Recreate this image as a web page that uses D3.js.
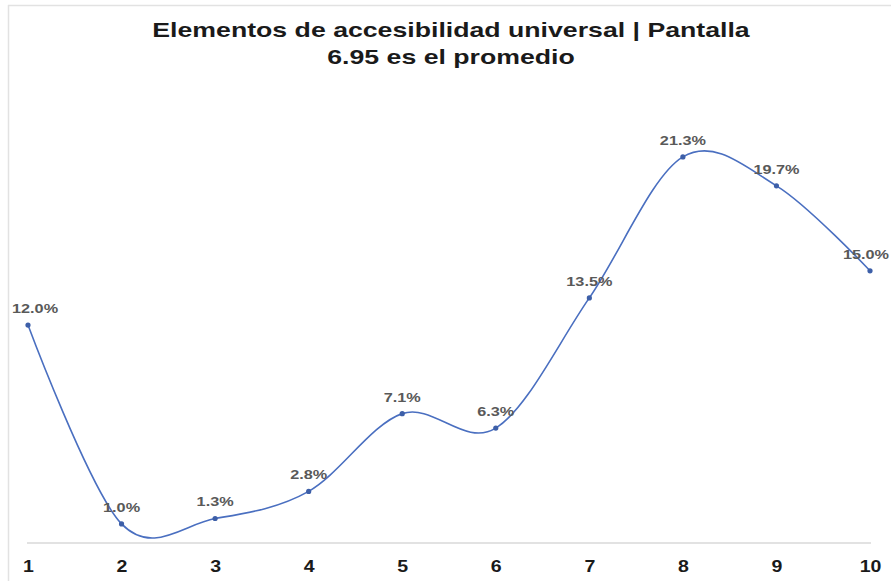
<!DOCTYPE html>
<html>
<head>
<meta charset="utf-8">
<script src="https://cdn.jsdelivr.net/npm/d3@7"></script>
<style>
  html, body { margin: 0; padding: 0; background: #ffffff; }
  svg { display: block; }
</style>
</head>
<body>
<svg id="chart" width="891" height="581"></svg>
<script>
const categories = ["1", "2", "3", "4", "5", "6", "7", "8", "9", "10"];
const values = [12.0, 1.0, 1.3, 2.8, 7.1, 6.3, 13.5, 21.3, 19.7, 15.0];
const valueLabels = ["12.0%", "1.0%", "1.3%", "2.8%", "7.1%", "6.3%", "13.5%", "21.3%", "19.7%", "15.0%"];
const titleLines = ["Elementos de accesibilidad universal | Pantalla", "6.95 es el promedio"];

const FONT = "'Liberation Sans', Arial, sans-serif";
const svg = d3.select("#chart");

// faint frame edges
svg.append("line").attr("x1", 8).attr("x2", 891).attr("y1", 5.5).attr("y2", 5.5)
  .attr("stroke", "#e2e2e2").attr("stroke-width", 1.5);
svg.append("line").attr("x1", 8.5).attr("x2", 8.5).attr("y1", 5).attr("y2", 581)
  .attr("stroke", "#e2e2e2").attr("stroke-width", 1.5);

const x = d3.scalePoint().domain(categories).range([28, 870]);
const y = d3.scaleLinear().domain([0, 25]).range([542, 90]);

// title (horizontally stretched like the reference)
titleLines.forEach((t, i) => {
  svg.append("g")
    .attr("transform", `translate(451, ${37 + i * 27}) scale(1.27, 1)`)
    .append("text")
    .attr("text-anchor", "middle")
    .attr("font-family", FONT)
    .attr("font-weight", "bold")
    .attr("font-size", 21)
    .attr("fill", "#1a1a1a")
    .text(t);
});

// x axis
const xAxis = d3.axisBottom(x).tickSize(0).tickFormat("");
const gx = svg.append("g").attr("transform", `translate(0, ${y(0) + 1})`).call(xAxis);
gx.select(".domain").attr("stroke", "#d9d9d9").attr("stroke-width", 1.5)
  .attr("d", `M27,0H871`);
gx.selectAll(".tick")
  .append("g")
  .attr("transform", "translate(0, 29) scale(1.15, 1)")
  .append("text")
  .attr("text-anchor", "middle")
  .attr("font-family", FONT)
  .attr("font-weight", "bold")
  .attr("font-size", 17)
  .attr("fill", "#1a1a1a")
  .text(d => d);

const data = categories.map((c, i) => ({ c, v: values[i], l: valueLabels[i] }));

const line = d3.line()
  .x(d => x(d.c))
  .y(d => y(d.v))
  .curve(d3.curveCatmullRom.alpha(0));

svg.append("path")
  .datum(data)
  .attr("d", line)
  .attr("fill", "none")
  .attr("stroke", "#4a6fc0")
  .attr("stroke-width", 1.6);

svg.selectAll("circle.pt")
  .data(data)
  .enter().append("circle")
  .attr("class", "pt")
  .attr("cx", d => x(d.c))
  .attr("cy", d => y(d.v))
  .attr("r", 2.6)
  .attr("fill", "#3d5fa8");

const SX = 1.25;
const lbl = svg.selectAll("g.lbl")
  .data(data)
  .enter().append("g")
  .attr("class", "lbl");
lbl.append("text")
  .attr("text-anchor", "middle")
  .attr("font-family", FONT)
  .attr("font-weight", "bold")
  .attr("font-size", 13)
  .attr("fill", "#595959")
  .text(d => d.l);
lbl.attr("transform", function(d) {
  const w = this.querySelector("text").getComputedTextLength() * SX;
  let cx = x(d.c);
  cx = Math.max(cx, 12 + w / 2);
  cx = Math.min(cx, 889 - w / 2);
  return `translate(${cx}, ${y(d.v) - 12}) scale(${SX}, 1)`;
});
</script>
</body>
</html>
